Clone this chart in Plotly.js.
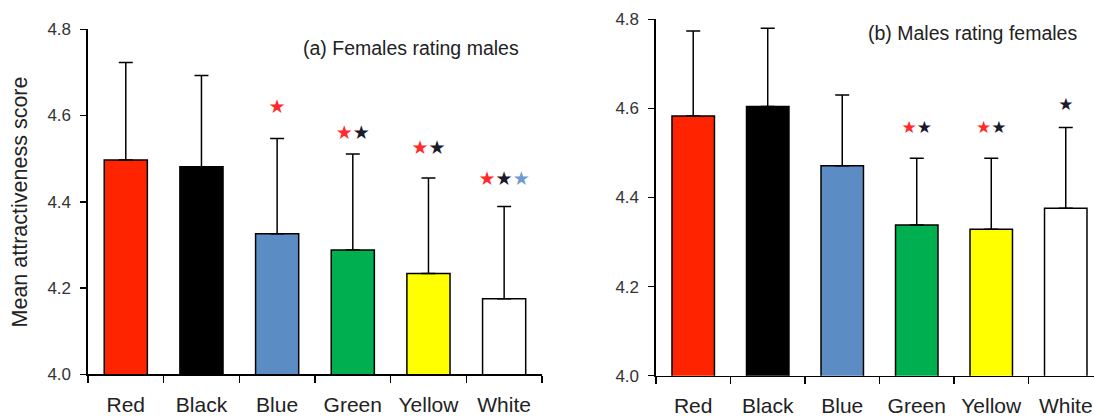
<!DOCTYPE html>
<html>
<head>
<meta charset="utf-8">
<script src="https://cdn.plot.ly/plotly-3.0.1.min.js"></script>
<style>html,body{margin:0;padding:0;background:#fff;}#chart{width:1094px;height:418px;}</style>
</head>
<body>
<div id="chart"></div>
<script>
// ---- data ----
const categories = ["Red", "Black", "Blue", "Green", "Yellow", "White"];
const barColors = ["#FF2400", "#000000", "#5B8DC4", "#00B050", "#FFFF00", "#FFFFFF"];

// (a) Females rating males
const meanA = [4.497, 4.481, 4.326, 4.288, 4.234, 4.175];
const sdA   = [0.226, 0.212, 0.221, 0.223, 0.221, 0.214];
const starLevelA = [null, null, 4.617, 4.557, 4.521, 4.451];
const starColorsA = [[], [], ["red"], ["red", "black"], ["red", "black"], ["red", "black", "blue"]];

// (b) Males rating females
const meanB = [4.583, 4.604, 4.471, 4.338, 4.329, 4.376];
const sdB   = [0.191, 0.176, 0.159, 0.150, 0.159, 0.181];
const starLevelB = [null, null, null, 4.555, 4.555, 4.605];
const starColorsB = [[], [], [], ["red", "black"], ["red", "black"], ["black"]];

const titleA = "(a) Females rating males";
const titleB = "(b) Males rating females";
const yTitle = "Mean attractiveness score";
const yTicks = [4.0, 4.2, 4.4, 4.6, 4.8];

// ---- rendering ----
const starHex = {red: "#FF2A2A", black: "#1a1a2a", blue: "#6E9BD2"};
function starText(cols) {
  return cols.map(c => '<span style="color:' + starHex[c] + '">★</span>').join('');
}
function barTrace(mean, sd, xa, ya) {
  return {
    type: "bar", x: categories, y: mean, xaxis: xa, yaxis: ya,
    width: 0.57,
    marker: {color: barColors, line: {color: "#000", width: 1.5}},
    error_y: {type: "data", symmetric: false, array: sd, arrayminus: sd.map(() => 0),
              color: "#000", thickness: 1.5, width: 7},
    hoverinfo: "skip", showlegend: false
  };
}
function starTrace(levels, cols, xa, ya, size) {
  return {
    type: "scatter", mode: "text", x: categories, y: levels, xaxis: xa, yaxis: ya,
    text: cols.map(starText), textposition: "middle center",
    textfont: {family: "DejaVu Sans", size: size},
    hoverinfo: "skip", showlegend: false, cliponaxis: false
  };
}

const traces = [
  barTrace(meanA, sdA, "x", "y"),
  starTrace(starLevelA, starColorsA, "x", "y", 19),
  barTrace(meanB, sdB, "x2", "y2"),
  starTrace(starLevelB, starColorsB, "x2", "y2", 17)
];

const fontFam = "Liberation Sans, Arial, sans-serif";
const xCommon = {
  type: "category", showline: true, linecolor: "#000", linewidth: 1.5,
  ticks: "outside", tickson: "boundaries", ticklen: 7, tickwidth: 1.5, tickcolor: "#000",
  tickfont: {family: fontFam, size: 21, color: "#222"}, ticklabelstandoff: 11,
  showgrid: false, zeroline: false, fixedrange: true
};
const yCommon = {
  range: [4.0, 4.8], tickvals: yTicks, tickformat: ".1f",
  showline: true, linecolor: "#000", linewidth: 1.5,
  ticks: "outside", ticklen: 6, tickwidth: 1.5, tickcolor: "#000",
  tickfont: {family: fontFam, size: 17, color: "#333"}, ticklabelstandoff: 6,
  showgrid: false, zeroline: false, fixedrange: true
};

const layout = {
  width: 1094, height: 418,
  margin: {l: 0, r: 0, t: 0, b: 0},
  paper_bgcolor: "#fff", plot_bgcolor: "rgba(0,0,0,0)",
  showlegend: false,
  xaxis: Object.assign({}, xCommon, {domain: [0.0804, 0.4954], range: [-0.5, 5.5], anchor: "y"}),
  yaxis: Object.assign({}, yCommon, {domain: [0.1045, 0.930], anchor: "x"}),
  xaxis2: Object.assign({}, xCommon, {domain: [0.5996, 1.0], range: [-0.5, 5.379], anchor: "y2"}),
  yaxis2: Object.assign({}, yCommon, {domain: [0.1012, 0.9538], anchor: "x2"}),
  annotations: [
    {text: titleA, xref: "paper", yref: "paper", x: 0.3756, y: 0.885, xanchor: "center", yanchor: "middle",
     showarrow: false, font: {family: fontFam, size: 19.5, color: "#222"}},
    {text: titleB, xref: "paper", yref: "paper", x: 0.8885, y: 0.921, xanchor: "center", yanchor: "middle",
     showarrow: false, font: {family: fontFam, size: 19.5, color: "#222"}},
    {text: yTitle, xref: "paper", yref: "paper", x: 20 / 1094, y: 0.5156, xanchor: "center", yanchor: "middle",
     textangle: -90, showarrow: false, font: {family: fontFam, size: 21.5, color: "#222"}}
  ]
};

Plotly.newPlot("chart", traces, layout, {displayModeBar: false, staticPlot: true});
</script>
</body>
</html>
